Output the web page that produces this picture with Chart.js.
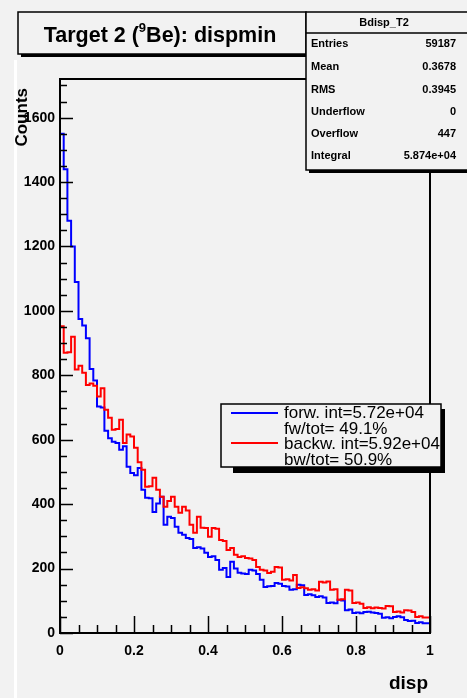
<!DOCTYPE html>
<html>
<head>
<meta charset="utf-8">
<script src="https://cdn.jsdelivr.net/npm/chart.js@4.4.1/dist/chart.umd.min.js"></script>
<style>
  html, body { margin: 0; padding: 0; background: #f2f2f2; }
  canvas { display: block; }
</style>
</head>
<body>
<canvas id="myChart" width="467" height="698"></canvas>
<script>
// histogram data, 100 bins over 0..1
const nBins = 100;
const forwCounts = [
  1640, 1550, 1440, 1280, 1200, 1090, 975, 955, 915, 820,
  784, 703, 700, 628, 605, 594, 590, 569, 580, 516,
  497, 490, 512, 445, 420, 418, 376, 402, 423, 336,
  361, 357, 330, 311, 305, 295, 292, 264, 266, 262,
  249, 236, 238, 227, 196, 202, 174, 221, 200, 187,
  185, 183, 196, 194, 183, 165, 143, 145, 146, 155,
  153, 146, 144, 134, 136, 150, 148, 118, 120, 117,
  112, 114, 110, 93, 95, 92, 103, 101, 71, 73,
  62, 64, 61, 65, 66, 64, 62, 60, 47, 49,
  46, 50, 52, 49, 40, 37, 38, 31, 33, 30
];
const backwCounts = [
  942, 952, 870, 872, 920, 818, 830, 808, 770, 775,
  768, 734, 760, 693, 668, 631, 633, 662, 590, 616,
  610, 575, 530, 507, 454, 456, 482, 445, 423, 392,
  410, 423, 392, 373, 392, 380, 336, 311, 361, 327,
  326, 299, 326, 324, 289, 286, 258, 264, 243, 236,
  238, 233, 231, 227, 205, 196, 194, 186, 190, 205,
  203, 165, 167, 163, 180, 140, 142, 139, 134, 136,
  132, 159, 157, 160, 134, 136, 103, 105, 134, 132,
  93, 95, 91, 78, 80, 77, 79, 78, 76, 84,
  83, 65, 67, 64, 71, 70, 65, 50, 52, 48
];

const xTicks = [0, 0.2, 0.4, 0.6, 0.8, 1];
const yTicks = [0, 200, 400, 600, 800, 1000, 1200, 1400, 1600];
const yMax = 1720;

const statsTitle = 'Bdisp_T2';
const statsLabels = ['Entries', 'Mean', 'RMS', 'Underflow', 'Overflow', 'Integral'];
const statsValues = ['59187', '0.3678', '0.3945', '0', '447', '5.874e+04'];
const legendText = ['forw. int=5.72e+04', 'fw/tot= 49.1%', 'backw. int=5.92e+04', 'bw/tot= 50.9%'];

const FONT = '"Liberation Sans", Arial, Helvetica, sans-serif';
const BG = '#f2f2f2';

function toSteps(counts) {
  const pts = counts.map((v, i) => ({ x: i / nBins, y: v }));
  pts.push({ x: 1, y: counts[counts.length - 1] });
  return pts;
}

// ROOT-like decorations: inner ticks, frame, boxes, titles
const rootDecor = {
  id: 'rootDecor',
  beforeDraw(chart) {
    const ctx = chart.ctx;
    ctx.save();
    ctx.fillStyle = BG;
    ctx.fillRect(0, 0, chart.width, chart.height);
    ctx.fillStyle = '#ffffff';
    ctx.fillRect(14, 60, 3, chart.height - 60);
    ctx.restore();
  },
  afterDraw(chart) {
    const ctx = chart.ctx;
    const a = chart.chartArea;
    const xs = chart.scales.x;
    const ys = chart.scales.y;
    ctx.save();

    // ticks pointing inside the frame
    ctx.strokeStyle = '#000';
    ctx.lineWidth = 1.5;
    ctx.beginPath();
    for (let k = 0; k * 50 <= yMax; k++) {
      const y = Math.round(ys.getPixelForValue(k * 50)) + 0.5;
      const len = k % 4 === 0 ? 13 : 7;
      ctx.moveTo(a.left, y);
      ctx.lineTo(a.left + len, y);
    }
    for (let k = 0; k <= 20; k++) {
      const x = Math.round(xs.getPixelForValue(k * 0.05)) + 0.5;
      const len = k % 4 === 0 ? 17 : 8;
      ctx.moveTo(x, a.bottom);
      ctx.lineTo(x, a.bottom - len);
    }
    ctx.stroke();

    // frame
    ctx.lineWidth = 2;
    ctx.strokeRect(a.left, a.top, a.right - a.left, a.bottom - a.top);

    // title box
    ctx.fillStyle = '#000';
    ctx.fillRect(21, 15, 288, 42);
    ctx.fillStyle = BG;
    ctx.fillRect(18, 12, 288, 42);
    ctx.lineWidth = 1.5;
    ctx.strokeRect(18, 12, 288, 42);
    ctx.fillStyle = '#000';
    ctx.textBaseline = 'alphabetic';
    ctx.textAlign = 'left';
    const p1 = 'Target 2 (', sup = '9', p2 = 'Be): dispmin';
    ctx.font = 'bold 21.5px ' + FONT;
    const w1 = ctx.measureText(p1).width, w3 = ctx.measureText(p2).width;
    ctx.font = 'bold 13px ' + FONT;
    const w2 = ctx.measureText(sup).width;
    let tx = 160 - (w1 + w2 + w3) / 2;
    ctx.font = 'bold 21.5px ' + FONT;
    ctx.fillText(p1, tx, 42);
    ctx.font = 'bold 13px ' + FONT;
    ctx.fillText(sup, tx + w1, 32);
    ctx.font = 'bold 21.5px ' + FONT;
    ctx.fillText(p2, tx + w1 + w2, 42);

    // stats box
    ctx.fillStyle = '#000';
    ctx.fillRect(309, 15, 170, 158);
    ctx.fillStyle = BG;
    ctx.fillRect(306, 12, 170, 158);
    ctx.strokeRect(306, 12, 170, 158);
    ctx.beginPath();
    ctx.moveTo(306, 33);
    ctx.lineTo(476, 33);
    ctx.stroke();
    ctx.fillStyle = '#000';
    ctx.font = 'bold 11px ' + FONT;
    ctx.textBaseline = 'middle';
    ctx.textAlign = 'center';
    ctx.fillText(statsTitle, 384, 23);
    const rowY = [44, 67, 90, 112, 134, 156];
    statsLabels.forEach((lab, i) => {
      ctx.textAlign = 'left';
      ctx.fillText(lab, 311, rowY[i]);
      ctx.textAlign = 'right';
      ctx.fillText(statsValues[i], 456, rowY[i]);
    });

    // legend box
    ctx.fillStyle = '#000';
    ctx.fillRect(233, 409, 212, 64);
    ctx.fillStyle = BG;
    ctx.fillRect(221, 404, 220, 63);
    ctx.lineWidth = 1.5;
    ctx.strokeRect(221, 404, 220, 63);
    const ds = chart.data.datasets;
    ctx.lineWidth = 2;
    ctx.strokeStyle = ds[1].borderColor;
    ctx.beginPath(); ctx.moveTo(231, 413); ctx.lineTo(278, 413); ctx.stroke();
    ctx.strokeStyle = ds[0].borderColor;
    ctx.beginPath(); ctx.moveTo(231, 443); ctx.lineTo(278, 443); ctx.stroke();
    ctx.fillStyle = '#000';
    ctx.font = '17px ' + FONT;
    ctx.textAlign = 'left';
    ctx.textBaseline = 'middle';
    const legY = [413, 429, 444, 460];
    legendText.forEach((t, i) => ctx.fillText(t, 284, legY[i]));

    // axis titles
    ctx.font = 'bold 17px ' + FONT;
    ctx.save();
    ctx.translate(22, 88);
    ctx.rotate(-Math.PI / 2);
    ctx.textAlign = 'right';
    ctx.textBaseline = 'middle';
    ctx.fillText('Counts', 0, 0);
    ctx.restore();
    ctx.font = 'bold 19px ' + FONT;
    ctx.textAlign = 'right';
    ctx.textBaseline = 'alphabetic';
    ctx.fillText('disp', 428, 689);

    ctx.restore();
  }
};

const tickFont = { family: FONT, size: 14, weight: 'bold' };

const ctx = document.getElementById('myChart').getContext('2d');
new Chart(ctx, {
  type: 'line',
  data: {
    datasets: [
      {
        label: 'backw.',
        data: toSteps(backwCounts),
        borderColor: '#ff0000',
        borderWidth: 2,
        stepped: 'after',
        pointRadius: 0,
        fill: false
      },
      {
        label: 'forw.',
        data: toSteps(forwCounts),
        borderColor: '#0000ff',
        borderWidth: 2,
        stepped: 'after',
        pointRadius: 0,
        fill: false
      }
    ]
  },
  options: {
    responsive: false,
    devicePixelRatio: 1,
    animation: false,
    events: [],
    layout: { padding: { left: 0, top: 79, right: 37, bottom: 0 } },
    plugins: {
      legend: { display: false },
      title: { display: false },
      tooltip: { enabled: false }
    },
    scales: {
      x: {
        type: 'linear',
        min: 0,
        max: 1,
        afterBuildTicks: s => { s.ticks = xTicks.map(v => ({ value: v })); },
        afterFit: s => { s.height = 65; },
        grid: { drawOnChartArea: false, drawTicks: false },
        border: { display: true, color: '#000', width: 2 },
        ticks: {
          padding: 10,
          font: tickFont,
          color: '#000',
          maxRotation: 0,
          autoSkip: false,
          callback: v => String(v)
        }
      },
      y: {
        type: 'linear',
        min: 0,
        max: yMax,
        afterBuildTicks: s => { s.ticks = yTicks.map(v => ({ value: v })); },
        afterFit: s => { s.width = 60; },
        grid: { drawOnChartArea: false, drawTicks: false },
        border: { display: true, color: '#000', width: 2 },
        ticks: {
          padding: 5,
          font: tickFont,
          color: '#000',
          autoSkip: false,
          callback: v => String(v)
        }
      }
    }
  },
  plugins: [rootDecor]
});
</script>
</body>
</html>
